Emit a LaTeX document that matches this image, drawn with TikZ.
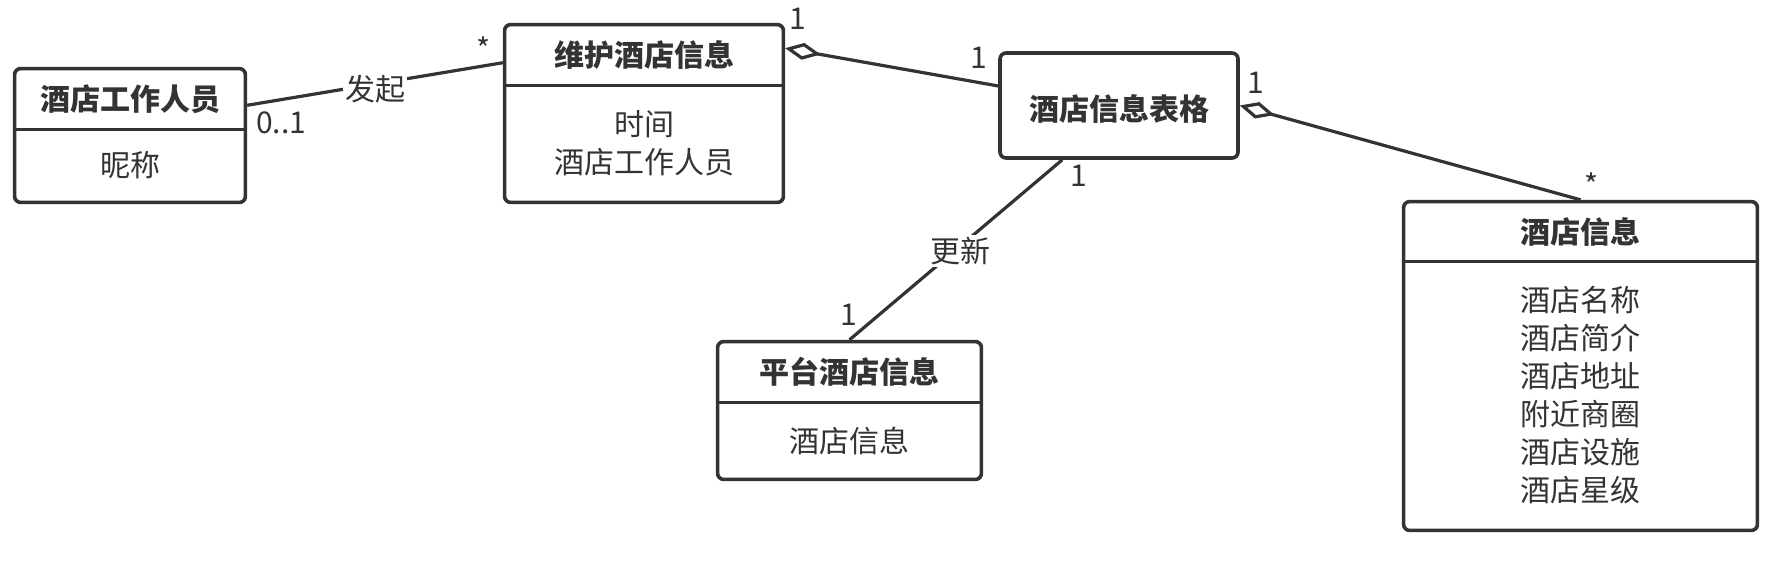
\documentclass[tikz,border=0pt]{standalone}
\usepackage{fontspec}
\setmainfont{Noto Sans CJK SC}
\usetikzlibrary{arrows.meta,fit,calc}
\definecolor{umlgray}{HTML}{333333}

\begin{document}
\begin{tikzpicture}[
x=0.5pt, y=-0.5pt,
every node/.style={text=umlgray, font=\fontsize{15pt}{19pt}\selectfont},
classpart/.style={inner sep=0},
headtext/.style={inner sep=0, font=\fontsize{15pt}{19pt}\selectfont\bfseries},
bodytext/.style={inner sep=0, align=center},
classframe/.style={draw=umlgray, line width=1.8pt, rounded corners=3pt, inner sep=0},
divider/.style={draw=umlgray, line width=1.8pt},
assoc/.style={draw=umlgray, line width=1.6pt},
aggr/.style={assoc, {Diamond[open, length=18pt, width=8.5pt]}-},
mult/.style={inner sep=0},
linklabel/.style={fill=white, inner sep=1pt, yshift=-2.5pt}
]
\useasboundingbox (0,0) rectangle (1786,564);

% staff
\node[classpart, fit={(15,69) (245,129)}] (staffhead) {};
\node[classpart, fit={(15,129) (245,202)}] (staffbody) {};
\node[classframe, fit=(staffhead) (staffbody)] (staff) {};
\draw[divider] (staffhead.south west) -- (staffhead.south east);
\node[headtext] (staffname) at (staffhead) {酒店工作人员};
\node[bodytext] (staffattr) at (staffbody) {昵称};

% maintain
\node[classpart, fit={(505,25) (783,85)}] (maintainhead) {};
\node[classpart, fit={(505,85) (783,202)}] (maintainbody) {};
\node[classframe, fit=(maintainhead) (maintainbody)] (maintain) {};
\draw[divider] (maintainhead.south west) -- (maintainhead.south east);
\node[headtext] (maintainname) at (maintainhead) {维护酒店信息};
\node[bodytext] (maintainattr) at (maintainbody) {时间\\酒店工作人员};

% table
\node[classframe, fit={(1000,53) (1238,158)}] (table) {};
\node[headtext] (tablename) at ([yshift=-1.5pt]table.center) {酒店信息表格};

% platform
\node[classpart, fit={(718,342) (981,402)}] (platformhead) {};
\node[classpart, fit={(718,402) (981,479)}] (platformbody) {};
\node[classframe, fit=(platformhead) (platformbody)] (platform) {};
\draw[divider] (platformhead.south west) -- (platformhead.south east);
\node[headtext] (platformname) at (platformhead) {平台酒店信息};
\node[bodytext] (platformattr) at (platformbody) {酒店信息};

% hotel
\node[classpart, fit={(1404,202) (1757,261)}] (hotelhead) {};
\node[classpart, fit={(1404,261) (1757,530)}] (hotelbody) {};
\node[classframe, fit=(hotelhead) (hotelbody)] (hotel) {};
\draw[divider] (hotelhead.south west) -- (hotelhead.south east);
\node[headtext] (hotelname) at (hotelhead) {酒店信息};
\node[bodytext] (hotelattr) at (hotelbody) {酒店名称\\酒店简介\\酒店地址\\附近商圈\\酒店设施\\酒店星级};

% links
\draw[assoc] ($(staff.north east)!0.28!(staff.south east)$) -- node[linklabel, pos=0.5] (startlabel) {发起} ($(maintain.north west)!0.22!(maintain.south west)$);
\draw[aggr] ($(maintain.north east)!0.14!(maintain.south east)$) -- ($(table.north west)!0.32!(table.south west)$);
\draw[aggr] (table.east) -- (hotel.north);
\draw[assoc] ($(table.south west)!0.265!(table.south east)$) -- node[linklabel, pos=0.48] (updatelabel) {更新} (platform.north);

% multiplicities
\node[mult] (staffmult) at (281,123) {0..1};
\node[mult] (maintainmult) at (483,49) {*};
\node[mult] (maintainaggr) at (798,19) {1};
\node[mult] (tableleft) at (979,58) {1};
\node[mult] (tableright) at (1256,83) {1};
\node[mult] (hotelmult) at (1591,185) {*};
\node[mult] (tablebottom) at (1079,176) {1};
\node[mult] (platformmult) at (849,315) {1};

\end{tikzpicture}
\end{document}
